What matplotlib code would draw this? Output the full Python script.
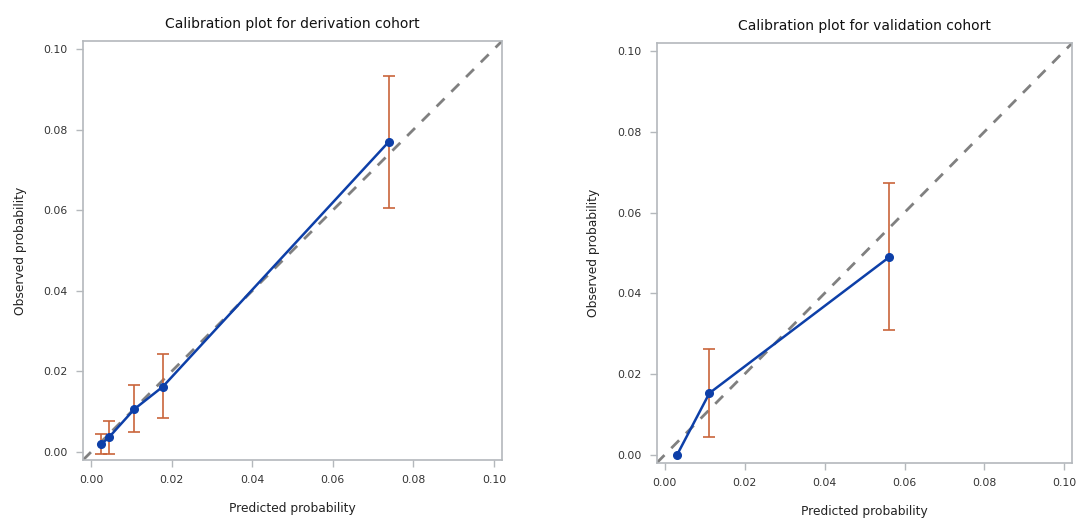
## Calibration plots for derivation / validation cohort ##

import numpy as np
import matplotlib
matplotlib.use("Agg")
import matplotlib.pyplot as plt

#//data\\#

#---derivation cohort---#
der_pred = [0.0025, 0.0045, 0.0107, 0.0178, 0.0739]
der_obs = [0.0019, 0.0037, 0.0106, 0.0162, 0.0770]
der_low = [-0.0006, -0.0004, 0.0049, 0.0085, 0.0606]
der_high = [0.0044, 0.0078, 0.0167, 0.0242, 0.0933]

#---validation cohort---#
val_pred = [0.0031, 0.0112, 0.0561]
val_obs = [0.0000, 0.0153, 0.0489]
val_low = [np.nan, 0.0045, 0.0309]
val_high = [np.nan, 0.0261, 0.0674]

ticks = [0.00, 0.02, 0.04, 0.06, 0.08, 0.10]
tick_labels = ["0.00", "0.02", "0.04", "0.06", "0.08", "0.10"]

#//styles\\#
blue = "#0d3fa8"
orange = "#c9653b"
grey = "#808080"
frame = "#b4b8bc"

plt.rcParams["font.family"] = "DejaVu Sans"

fig = plt.figure(figsize=(10.8, 5.22), dpi=100)
ax1 = fig.add_axes([0.0769, 0.1188, 0.388, 0.8027])
ax2 = fig.add_axes([0.608, 0.113, 0.385, 0.805])


#--one calibration panel--#
def panel(ax, pred, obs, low, high, title):
    lo = -0.002
    hi = 0.102
    ax.plot([lo, hi], [lo, hi], color=grey, lw=2, ls=(0, (4, 3.5)), zorder=1)
    obs = np.array(obs)
    yerr = np.array([obs - np.array(low), np.array(high) - obs])
    ax.errorbar(pred, obs, yerr=yerr, fmt="none", ecolor=orange, elinewidth=1.2,
                capsize=4, capthick=1.2, zorder=2)
    ax.plot(pred, obs, color=blue, lw=1.8, marker="o", ms=5.5, zorder=3)
    ax.set_xlim(lo, hi)
    ax.set_ylim(lo, hi)
    ax.set_xticks(ticks)
    ax.set_xticklabels(tick_labels)
    ax.set_yticks(ticks)
    ax.set_yticklabels(tick_labels)
    ax.tick_params(colors="#333333", labelsize=7.8, length=5, width=1, pad=6)
    ax.tick_params(axis="both", color=frame)
    for s in ax.spines.values():
        s.set_color(frame)
        s.set_linewidth(1.2)
    ax.set_xlabel("Predicted probability", fontsize=8.8, color="#222222", labelpad=12)
    ax.set_ylabel("Observed probability", fontsize=8.8, color="#222222", labelpad=12)
    ax.set_title(title, fontsize=10, color="#111111", pad=9)


panel(ax1, der_pred, der_obs, der_low, der_high, "Calibration plot for derivation cohort")
panel(ax2, val_pred, val_obs, val_low, val_high, "Calibration plot for validation cohort")

plt.savefig("out.png", dpi=100)
